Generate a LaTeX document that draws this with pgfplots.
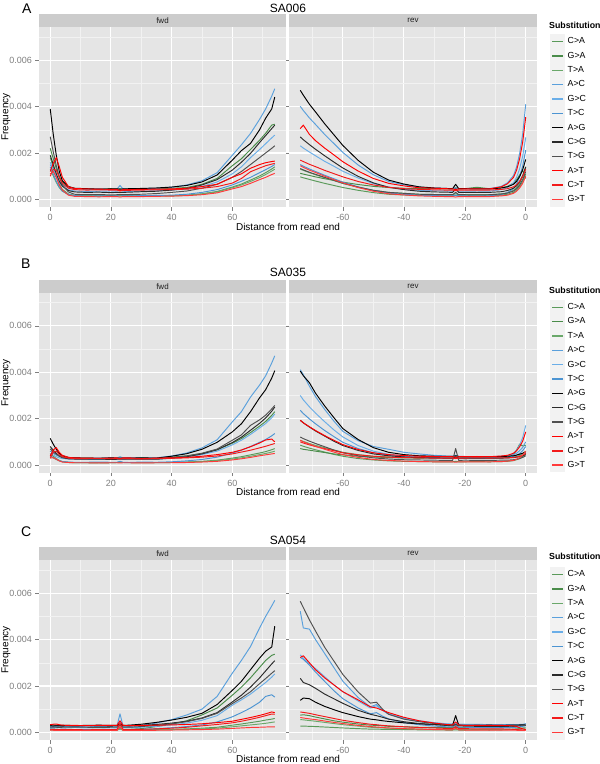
\documentclass[border=0pt]{standalone}
\usepackage{pgfplots}
\pgfplotsset{compat=1.18}
\usepackage{pgfplotstable}
\usepackage{fontspec}
\setmainfont{Liberation Sans}

\definecolor{bg}{HTML}{E5E5E5}
\definecolor{minorg}{HTML}{F2F2F2}
\definecolor{stripg}{HTML}{CCCCCC}
\definecolor{tickg}{HTML}{7F7F7F}
\definecolor{legbg}{HTML}{F2F2F2}
\definecolor{gCA}{HTML}{5A9A5A}
\definecolor{gGA}{HTML}{4A8C4A}
\definecolor{gTA}{HTML}{6AA86A}
\definecolor{bAC}{HTML}{5AA0DC}
\definecolor{bGC}{HTML}{6AAEE8}
\definecolor{bTC}{HTML}{4C94D2}
\definecolor{kAG}{HTML}{000000}
\definecolor{kCG}{HTML}{2A2A2A}
\definecolor{kTG}{HTML}{505050}
\definecolor{rAT}{HTML}{FF0000}
\definecolor{rCT}{HTML}{F21A1A}
\definecolor{rGT}{HTML}{FF3A3A}

% values in units of 1e-3
\pgfplotstableread{
x CA GA TA AC GC TC AG CG TG AT CT GT
0 1.80 2.20 1.30 1.50 1.60 1.40 3.90 1.90 2.70 1.20 1.00 1.10
1 1.39 1.76 1.01 1.24 1.29 1.09 2.80 1.50 2.05 1.55 1.30 1.20
2 0.98 1.33 0.73 0.98 0.98 0.78 1.90 1.10 1.45 1.80 1.25 0.95
3 0.65 0.98 0.50 0.77 0.73 0.53 1.20 0.78 0.95 1.40 0.95 0.62
4 0.43 0.75 0.35 0.63 0.56 0.36 0.80 0.57 0.62 0.95 0.70 0.40
6 0.23 0.54 0.21 0.50 0.41 0.21 0.55 0.38 0.32 0.55 0.48 0.18
8 0.17 0.47 0.16 0.46 0.36 0.16 0.48 0.32 0.22 0.47 0.42 0.13
12 0.15 0.45 0.15 0.44 0.34 0.14 0.46 0.30 0.20 0.45 0.40 0.12
16 0.14 0.44 0.16 0.45 0.35 0.15 0.44 0.31 0.21 0.44 0.41 0.11
20 0.16 0.46 0.14 0.43 0.36 0.15 0.45 0.29 0.19 0.43 0.40 0.12
22 0.15 0.45 0.15 0.44 0.35 0.15 0.45 0.30 0.20 0.43 0.40 0.12
23 0.15 0.45 0.15 0.60 0.40 0.22 0.44 0.30 0.20 0.38 0.36 0.10
24 0.15 0.45 0.15 0.44 0.35 0.15 0.45 0.30 0.20 0.42 0.39 0.12
26 0.14 0.43 0.16 0.44 0.34 0.15 0.46 0.31 0.21 0.42 0.39 0.12
30 0.15 0.45 0.15 0.46 0.35 0.16 0.47 0.33 0.22 0.43 0.40 0.12
35 0.16 0.47 0.14 0.48 0.37 0.17 0.49 0.35 0.25 0.44 0.41 0.13
40 0.15 0.48 0.16 0.52 0.40 0.18 0.53 0.40 0.30 0.45 0.42 0.14
45 0.18 0.51 0.17 0.62 0.45 0.22 0.60 0.47 0.36 0.48 0.44 0.16
50 0.24 0.65 0.23 0.80 0.55 0.30 0.75 0.62 0.48 0.55 0.48 0.20
55 0.34 0.90 0.32 1.15 0.75 0.42 1.05 0.85 0.65 0.65 0.55 0.28
60 0.53 1.45 0.50 1.90 1.10 0.62 1.69 1.26 0.95 0.95 0.70 0.45
63 0.66 1.75 0.62 2.35 1.40 0.78 2.10 1.60 1.20 1.10 0.90 0.55
66 0.83 2.15 0.77 2.84 1.80 0.95 2.41 1.98 1.50 1.34 1.19 0.69
69 1.01 2.55 0.94 3.45 2.15 1.15 3.00 2.45 1.80 1.50 1.35 0.85
71 1.15 2.85 1.07 3.90 2.40 1.28 3.50 2.75 2.00 1.58 1.45 0.95
73 1.31 3.20 1.22 4.45 2.65 1.42 3.90 3.05 2.20 1.63 1.52 1.07
74 1.40 3.24 1.30 4.77 2.77 1.50 4.41 3.20 2.31 1.65 1.55 1.12
}\Afwd

\pgfplotstableread{
x CA GA TA AC GC TC AG CG TG AT CT GT
-74 0.97 1.12 1.30 4.01 2.31 1.50 4.70 2.69 1.33 3.05 1.69 1.45
-73 0.93 1.09 1.25 3.83 2.21 1.43 4.49 2.57 1.27 3.20 1.63 1.38
-71 0.86 1.03 1.15 3.51 2.04 1.31 4.10 2.36 1.17 2.80 1.51 1.26
-69 0.79 0.97 1.06 3.23 1.88 1.20 3.77 2.16 1.08 2.53 1.41 1.16
-66 0.69 0.89 0.93 2.80 1.64 1.04 3.26 1.88 0.95 2.21 1.25 1.00
-63 0.60 0.82 0.81 2.41 1.43 0.89 2.79 1.61 0.82 1.92 1.11 0.85
-60 0.51 0.74 0.68 2.02 1.21 0.74 2.32 1.35 0.70 1.62 0.97 0.71
-55 0.39 0.64 0.52 1.48 0.92 0.54 1.68 0.99 0.53 1.22 0.77 0.51
-50 0.29 0.56 0.39 1.06 0.68 0.38 1.17 0.71 0.39 0.90 0.62 0.35
-45 0.22 0.51 0.30 0.77 0.53 0.27 0.83 0.52 0.30 0.69 0.52 0.24
-40 0.19 0.48 0.26 0.63 0.45 0.22 0.66 0.42 0.26 0.58 0.46 0.19
-35 0.17 0.47 0.22 0.52 0.39 0.18 0.54 0.35 0.22 0.50 0.43 0.15
-30 0.16 0.46 0.21 0.49 0.37 0.16 0.49 0.32 0.21 0.48 0.41 0.13
-26 0.15 0.45 0.20 0.47 0.36 0.15 0.47 0.31 0.20 0.46 0.40 0.12
-24 0.15 0.45 0.20 0.46 0.35 0.15 0.46 0.30 0.20 0.45 0.40 0.12
-23 0.17 0.50 0.24 0.50 0.38 0.18 0.65 0.45 0.30 0.42 0.37 0.10
-22 0.15 0.45 0.20 0.46 0.35 0.15 0.46 0.30 0.20 0.45 0.40 0.12
-20 0.15 0.46 0.20 0.46 0.35 0.15 0.46 0.30 0.20 0.45 0.40 0.12
-16 0.14 0.52 0.21 0.46 0.36 0.15 0.45 0.30 0.19 0.45 0.40 0.12
-12 0.15 0.46 0.20 0.46 0.35 0.15 0.45 0.30 0.20 0.45 0.40 0.12
-8 0.18 0.50 0.24 0.56 0.42 0.21 0.49 0.33 0.23 0.54 0.43 0.15
-6 0.22 0.56 0.28 0.71 0.51 0.29 0.54 0.38 0.27 0.67 0.46 0.18
-4 0.30 0.70 0.39 1.03 0.72 0.47 0.65 0.48 0.36 0.95 0.54 0.26
-3 0.40 0.85 0.51 1.40 0.95 0.66 0.78 0.59 0.46 1.26 0.63 0.35
-2 0.55 1.05 0.70 1.98 1.32 0.98 0.98 0.76 0.62 1.75 0.78 0.49
-1 0.77 1.25 0.98 2.82 1.86 1.43 1.28 1.02 0.85 2.47 0.99 0.69
0 1.10 0.90 1.40 4.10 2.67 2.12 1.72 1.40 1.20 3.55 1.30 1.00
}\Arev

\pgfplotstableread{
x CA GA TA AC GC TC AG CG TG AT CT GT
0 0.50 0.60 0.40 0.60 0.50 0.40 1.15 0.80 0.70 0.40 0.30 0.30
1 0.38 0.51 0.31 0.51 0.43 0.32 0.90 0.64 0.57 0.65 0.55 0.32
2 0.28 0.44 0.24 0.44 0.36 0.25 0.68 0.50 0.47 0.75 0.60 0.25
3 0.20 0.38 0.18 0.38 0.31 0.19 0.51 0.39 0.39 0.55 0.45 0.18
4 0.15 0.34 0.14 0.34 0.28 0.15 0.40 0.32 0.33 0.42 0.36 0.13
6 0.12 0.31 0.11 0.31 0.26 0.13 0.33 0.27 0.30 0.33 0.30 0.11
8 0.10 0.30 0.10 0.30 0.25 0.12 0.31 0.26 0.28 0.31 0.28 0.10
12 0.10 0.30 0.10 0.29 0.25 0.12 0.30 0.25 0.28 0.30 0.28 0.10
16 0.11 0.29 0.09 0.30 0.24 0.13 0.29 0.26 0.27 0.29 0.29 0.09
20 0.10 0.31 0.10 0.31 0.26 0.12 0.31 0.24 0.29 0.30 0.27 0.10
22 0.11 0.30 0.11 0.30 0.25 0.12 0.30 0.25 0.28 0.31 0.28 0.10
23 0.12 0.30 0.11 0.36 0.27 0.16 0.30 0.25 0.28 0.27 0.26 0.09
24 0.11 0.30 0.11 0.31 0.25 0.12 0.30 0.25 0.28 0.31 0.28 0.10
26 0.11 0.29 0.10 0.32 0.27 0.11 0.30 0.25 0.28 0.31 0.28 0.10
30 0.10 0.31 0.10 0.30 0.25 0.13 0.31 0.26 0.28 0.28 0.26 0.09
35 0.10 0.30 0.11 0.31 0.26 0.12 0.30 0.25 0.27 0.30 0.28 0.10
40 0.11 0.34 0.11 0.39 0.29 0.14 0.38 0.30 0.33 0.31 0.29 0.10
45 0.13 0.40 0.13 0.52 0.35 0.18 0.49 0.36 0.39 0.33 0.31 0.11
50 0.16 0.50 0.15 0.74 0.45 0.24 0.68 0.48 0.51 0.38 0.34 0.13
55 0.21 0.66 0.19 1.09 0.60 0.34 0.98 0.66 0.69 0.45 0.39 0.16
60 0.30 0.94 0.26 1.86 0.87 0.52 1.43 0.97 1.07 0.55 0.48 0.22
63 0.36 1.14 0.31 2.30 1.07 0.64 1.78 1.20 1.30 0.65 0.56 0.27
66 0.44 1.40 0.38 2.93 1.32 0.80 2.30 1.50 1.71 0.79 0.64 0.33
69 0.52 1.68 0.45 3.45 1.60 0.98 2.90 1.80 1.95 0.95 0.74 0.40
71 0.58 1.88 0.50 3.85 1.79 1.10 3.25 2.03 2.15 1.08 0.81 0.44
73 0.66 2.14 0.56 4.40 2.04 1.26 3.75 2.32 2.42 1.12 0.89 0.48
74 0.71 2.30 0.60 4.71 2.20 1.36 4.07 2.50 2.57 1.00 0.93 0.50
}\Bfwd

\pgfplotstableread{
x CA GA TA AC GC TC AG CG TG AT CT GT
-74 0.86 0.71 1.07 4.11 3.00 2.36 4.05 1.93 1.21 1.93 1.00 1.07
-73 0.81 0.68 1.02 3.90 2.81 2.22 3.85 1.82 1.14 1.82 0.95 1.00
-71 0.73 0.64 0.93 3.40 2.51 1.99 3.55 1.64 1.03 1.65 0.87 0.90
-69 0.66 0.60 0.85 2.95 2.24 1.78 3.10 1.47 0.93 1.49 0.80 0.81
-66 0.56 0.54 0.75 2.40 1.87 1.49 2.55 1.25 0.79 1.27 0.71 0.68
-63 0.46 0.48 0.65 1.90 1.52 1.23 2.05 1.03 0.65 1.07 0.62 0.56
-60 0.38 0.44 0.55 1.45 1.21 0.98 1.57 0.84 0.53 0.88 0.53 0.45
-55 0.28 0.38 0.45 1.05 0.84 0.71 1.10 0.63 0.40 0.67 0.44 0.33
-50 0.22 0.35 0.38 0.80 0.60 0.53 0.75 0.48 0.31 0.53 0.38 0.24
-45 0.18 0.32 0.35 0.68 0.46 0.42 0.55 0.40 0.26 0.45 0.34 0.20
-40 0.16 0.31 0.32 0.55 0.38 0.36 0.45 0.35 0.23 0.41 0.32 0.17
-35 0.15 0.30 0.31 0.48 0.34 0.33 0.40 0.32 0.22 0.38 0.31 0.15
-30 0.14 0.31 0.30 0.42 0.31 0.31 0.38 0.31 0.21 0.37 0.30 0.14
-26 0.14 0.30 0.31 0.39 0.30 0.30 0.37 0.30 0.20 0.36 0.30 0.14
-24 0.14 0.30 0.30 0.38 0.30 0.30 0.37 0.30 0.20 0.36 0.30 0.14
-23 0.16 0.34 0.33 0.42 0.32 0.33 0.40 0.35 0.71 0.33 0.28 0.12
-22 0.14 0.30 0.30 0.38 0.30 0.30 0.37 0.30 0.20 0.36 0.30 0.14
-20 0.14 0.31 0.30 0.37 0.30 0.30 0.36 0.30 0.21 0.36 0.30 0.14
-16 0.15 0.30 0.31 0.36 0.31 0.30 0.36 0.30 0.20 0.37 0.31 0.14
-12 0.14 0.31 0.30 0.36 0.30 0.30 0.36 0.30 0.20 0.36 0.30 0.14
-8 0.15 0.32 0.31 0.38 0.34 0.32 0.37 0.30 0.21 0.39 0.31 0.15
-6 0.16 0.34 0.32 0.40 0.38 0.33 0.38 0.31 0.21 0.42 0.31 0.17
-4 0.19 0.45 0.34 0.45 0.50 0.37 0.40 0.32 0.23 0.51 0.33 0.20
-3 0.23 0.65 0.37 0.51 0.64 0.42 0.43 0.34 0.25 0.62 0.35 0.25
-2 0.28 0.90 0.42 0.62 0.86 0.50 0.47 0.36 0.28 0.79 0.38 0.32
-1 0.37 0.82 0.49 0.76 1.19 0.62 0.51 0.40 0.33 1.03 0.43 0.43
0 0.50 0.86 0.60 1.00 1.71 0.80 0.57 0.45 0.40 1.43 0.50 0.60
}\Brev

\pgfplotstableread{
x CA GA TA AC GC TC AG CG TG AT CT GT
0 0.10 0.15 0.12 0.25 0.20 0.15 0.30 0.28 0.22 0.33 0.12 0.10
1 0.11 0.14 0.11 0.26 0.21 0.14 0.31 0.27 0.23 0.35 0.13 0.09
2 0.10 0.13 0.10 0.25 0.20 0.13 0.30 0.28 0.22 0.36 0.12 0.08
3 0.10 0.12 0.11 0.24 0.20 0.12 0.29 0.28 0.21 0.33 0.12 0.08
4 0.11 0.12 0.10 0.25 0.19 0.13 0.30 0.27 0.22 0.31 0.13 0.09
6 0.10 0.13 0.10 0.26 0.20 0.12 0.30 0.28 0.22 0.30 0.12 0.08
8 0.10 0.12 0.11 0.25 0.21 0.12 0.29 0.28 0.23 0.30 0.12 0.08
12 0.11 0.12 0.10 0.24 0.20 0.13 0.30 0.29 0.22 0.29 0.11 0.08
16 0.10 0.13 0.10 0.25 0.20 0.12 0.31 0.28 0.21 0.30 0.12 0.09
20 0.10 0.12 0.11 0.26 0.19 0.12 0.30 0.27 0.22 0.30 0.12 0.08
22 0.10 0.12 0.10 0.27 0.20 0.13 0.30 0.28 0.22 0.30 0.12 0.08
23 0.15 0.20 0.14 0.80 0.45 0.35 0.35 0.32 0.30 0.50 0.40 0.25
24 0.10 0.12 0.10 0.27 0.21 0.13 0.30 0.28 0.22 0.30 0.12 0.08
26 0.10 0.13 0.10 0.26 0.20 0.12 0.31 0.28 0.22 0.29 0.12 0.08
30 0.11 0.16 0.10 0.30 0.22 0.13 0.35 0.30 0.25 0.30 0.13 0.08
35 0.12 0.25 0.11 0.40 0.26 0.16 0.43 0.34 0.30 0.31 0.15 0.09
40 0.13 0.35 0.12 0.55 0.32 0.20 0.53 0.40 0.37 0.32 0.18 0.10
45 0.15 0.50 0.13 0.75 0.40 0.25 0.65 0.48 0.46 0.34 0.22 0.11
50 0.18 0.75 0.15 1.00 0.52 0.32 0.82 0.62 0.60 0.37 0.28 0.12
55 0.22 1.05 0.18 1.55 0.72 0.45 1.20 0.85 0.82 0.42 0.34 0.14
60 0.31 1.60 0.24 2.55 1.17 0.67 1.81 1.31 1.24 0.48 0.41 0.17
63 0.36 1.95 0.28 3.10 1.40 0.85 2.20 1.60 1.48 0.56 0.48 0.19
66 0.42 2.35 0.32 3.70 1.65 1.05 2.70 1.95 1.75 0.64 0.56 0.21
69 0.48 2.80 0.36 4.50 1.95 1.30 3.20 2.35 2.10 0.73 0.65 0.22
71 0.53 3.10 0.39 5.00 2.15 1.55 3.50 2.65 2.32 0.80 0.72 0.23
73 0.57 3.32 0.43 5.45 2.38 1.62 3.68 2.95 2.55 0.88 0.79 0.24
74 0.60 3.37 0.45 5.69 2.52 1.52 4.58 3.09 2.66 0.85 0.78 0.24
}\Cfwd

\pgfplotstableread{
x CA GA TA AC GC TC AG CG TG AT CT GT
-74 0.27 0.74 0.55 5.22 3.34 3.23 1.38 2.33 5.65 3.23 0.88 0.64
-73 0.27 0.76 0.54 4.50 3.20 3.15 1.48 2.15 5.38 3.30 0.86 0.62
-71 0.26 0.72 0.51 4.45 2.95 2.90 1.45 2.05 4.85 3.00 0.82 0.58
-69 0.25 0.66 0.48 4.00 2.75 2.60 1.30 1.90 4.37 2.70 0.76 0.55
-66 0.23 0.58 0.43 3.40 2.40 2.20 1.12 1.65 3.67 2.35 0.68 0.49
-63 0.21 0.50 0.38 2.80 2.05 1.80 0.98 1.45 3.08 2.05 0.60 0.43
-60 0.19 0.44 0.33 2.20 1.75 1.45 0.85 1.25 2.49 1.75 0.52 0.38
-55 0.16 0.36 0.27 1.50 1.35 1.05 0.68 0.95 1.74 1.40 0.42 0.30
-51 0.14 0.31 0.22 1.10 1.05 0.80 0.57 0.78 1.26 1.10 0.35 0.25
-49 0.14 0.30 0.21 1.20 1.15 0.85 0.54 0.72 1.30 1.05 0.33 0.23
-47 0.13 0.28 0.19 0.95 0.95 0.70 0.50 0.65 1.00 0.95 0.30 0.21
-45 0.13 0.26 0.18 0.78 0.80 0.58 0.47 0.57 0.78 0.85 0.28 0.19
-40 0.12 0.24 0.16 0.58 0.62 0.42 0.41 0.46 0.57 0.65 0.24 0.16
-35 0.11 0.22 0.14 0.47 0.50 0.33 0.37 0.38 0.46 0.50 0.21 0.14
-30 0.11 0.21 0.13 0.40 0.42 0.27 0.34 0.33 0.38 0.40 0.19 0.12
-26 0.10 0.20 0.12 0.36 0.37 0.24 0.32 0.30 0.33 0.34 0.17 0.11
-24 0.10 0.20 0.12 0.35 0.35 0.23 0.31 0.28 0.31 0.32 0.16 0.11
-23 0.11 0.22 0.14 0.40 0.38 0.30 0.72 0.35 0.32 0.45 0.25 0.18
-22 0.10 0.20 0.12 0.35 0.35 0.22 0.31 0.28 0.31 0.32 0.16 0.11
-20 0.10 0.20 0.12 0.34 0.34 0.22 0.30 0.27 0.30 0.30 0.16 0.10
-16 0.11 0.21 0.12 0.35 0.33 0.21 0.30 0.26 0.31 0.30 0.15 0.10
-12 0.10 0.20 0.13 0.33 0.33 0.21 0.31 0.26 0.30 0.30 0.15 0.10
-8 0.11 0.21 0.12 0.34 0.32 0.20 0.30 0.25 0.30 0.30 0.15 0.10
-6 0.12 0.22 0.13 0.33 0.32 0.20 0.31 0.26 0.29 0.29 0.14 0.10
-4 0.14 0.25 0.13 0.34 0.31 0.21 0.31 0.27 0.30 0.28 0.13 0.09
-3 0.15 0.28 0.14 0.33 0.31 0.22 0.31 0.28 0.30 0.25 0.12 0.09
-2 0.17 0.32 0.14 0.34 0.30 0.24 0.32 0.29 0.31 0.20 0.11 0.08
-1 0.19 0.30 0.15 0.34 0.31 0.26 0.32 0.30 0.30 0.15 0.10 0.08
0 0.20 0.30 0.15 0.38 0.30 0.28 0.32 0.30 0.30 0.12 0.10 0.08
}\Crev

\pgfplotsset{
  facet/.style={
    scale only axis, height=180pt,
    ymin=-0.33, ymax=7.43,
    axis background/.style={fill=bg},
    axis line style={draw=none},
    grid=both,
    major grid style={white, line width=1.1pt},
    minor grid style={minorg, line width=0.5pt},
    ytick={0,2,4,6}, minor ytick={1,3,5,7},
    tick align=outside, major tick length=3.5pt, minor tick length=0pt,
    tick style={tickg, line width=0.5pt},
    ticklabel style={font=\fontsize{9}{10}\selectfont, text=tickg},
    every axis title/.style={at={(0.5,1)}, anchor=south,
      fill=stripg, minimum height=12.7pt, inner sep=0pt,
      font=\fontsize{8}{9}\selectfont, text=black!88},
    every axis plot/.append style={line width=0.95pt, mark=none, line join=round},
  },
  fwd/.style={facet, width=247pt, xmin=-3.7, xmax=77.7,
    xtick={0,20,40,60}, xticklabels={0,20,40,60}, minor xtick={10,30,50,70},
    yticklabels={0.000,0.002,0.004,0.006},
    title={fwd}, title style={minimum width=247pt}},
  rev/.style={facet, width=248pt, xmin=-77.7, xmax=3.7,
    xtick={-60,-40,-20,0}, xticklabels={-60,-40,-20,0}, minor xtick={-70,-50,-30,-10},
    yticklabels={}, ytick style={draw=none},
    title={rev}, title style={minimum width=248pt},
    legend entries={C>A,G>A,T>A,A>C,G>C,T>C,A>G,C>G,T>G,A>T,C>T,G>T},
    legend style={at={(1,1)}, anchor=north west, xshift=13pt, yshift=-7.2pt,
      draw=none, fill=none, inner sep=0pt, row sep=0pt, column sep=2.5pt,
      font=\fontsize{8.8}{10}\selectfont, nodes={inner sep=0pt}, cells={anchor=west}},
    legend image code/.code={%
      \fill[legbg] (0pt,-6.7pt) rectangle (14pt,6.7pt);
      \draw[##1, line width=1.5pt] (1.5pt,0pt) -- (12.5pt,0pt);},
  },
}

\newcommand{\subst}[1]{%
  \addplot[gCA] table[x=x,y=CA]{#1};
  \addplot[gGA] table[x=x,y=GA]{#1};
  \addplot[gTA] table[x=x,y=TA]{#1};
  \addplot[bAC] table[x=x,y=AC]{#1};
  \addplot[bGC] table[x=x,y=GC]{#1};
  \addplot[bTC] table[x=x,y=TC]{#1};
  \addplot[kAG] table[x=x,y=AG]{#1};
  \addplot[kCG] table[x=x,y=CG]{#1};
  \addplot[kTG] table[x=x,y=TG]{#1};
  \addplot[rAT] table[x=x,y=AT]{#1};
  \addplot[rCT] table[x=x,y=CT]{#1};
  \addplot[rGT] table[x=x,y=GT]{#1};
}

\begin{document}
\begin{tikzpicture}
\useasboundingbox (0pt,0pt) rectangle (600pt,-764pt);

% ---------- Panel A ----------
\begin{axis}[fwd, at={(39pt,-27pt)}, anchor=north west]
\subst{\Afwd}
\end{axis}
\begin{axis}[rev, at={(289pt,-27pt)}, anchor=north west]
\subst{\Arev}
\end{axis}

% ---------- Panel B ----------
\begin{axis}[fwd, at={(39pt,-292.7pt)}, anchor=north west]
\subst{\Bfwd}
\end{axis}
\begin{axis}[rev, at={(289pt,-292.7pt)}, anchor=north west]
\subst{\Brev}
\end{axis}

% ---------- Panel C ----------
\begin{axis}[fwd, at={(39pt,-560pt)}, anchor=north west]
\subst{\Cfwd}
\end{axis}
\begin{axis}[rev, at={(289pt,-560pt)}, anchor=north west]
\subst{\Crev}
\end{axis}

% panel letters
\node[font=\fontsize{14}{16}\selectfont, anchor=west, inner sep=0pt] at (22pt,-9pt) {A};
\node[font=\fontsize{14}{16}\selectfont, anchor=west, inner sep=0pt] at (21pt,-264pt) {B};
\node[font=\fontsize{14}{16}\selectfont, anchor=west, inner sep=0pt] at (21pt,-531.7pt) {C};
% titles
\node[font=\fontsize{12}{14}\selectfont, inner sep=0pt] at (288pt,-8.5pt) {SA006};
\node[font=\fontsize{12}{14}\selectfont, inner sep=0pt] at (288pt,-272.5pt) {SA035};
\node[font=\fontsize{12}{14}\selectfont, inner sep=0pt] at (288pt,-540pt) {SA054};
% y labels
\node[font=\fontsize{10}{12}\selectfont, rotate=90, inner sep=0pt] at (6pt,-117pt) {Frequency};
\node[font=\fontsize{10}{12}\selectfont, rotate=90, inner sep=0pt] at (6pt,-382.7pt) {Frequency};
\node[font=\fontsize{10}{12}\selectfont, rotate=90, inner sep=0pt] at (6pt,-650pt) {Frequency};
% x labels
\node[font=\fontsize{10}{12}\selectfont, inner sep=0pt] at (288pt,-226.5pt) {Distance from read end};
\node[font=\fontsize{10}{12}\selectfont, inner sep=0pt] at (288pt,-492.2pt) {Distance from read end};
\node[font=\fontsize{10}{12}\selectfont, inner sep=0pt] at (288pt,-759pt) {Distance from read end};
% legend titles
\node[font=\bfseries\fontsize{8.8}{10}\selectfont, anchor=west, inner sep=0pt] at (549pt,-25pt) {Substitution};
\node[font=\bfseries\fontsize{8.8}{10}\selectfont, anchor=west, inner sep=0pt] at (549pt,-290pt) {Substitution};
\node[font=\bfseries\fontsize{8.8}{10}\selectfont, anchor=west, inner sep=0pt] at (549pt,-556.7pt) {Substitution};
\end{tikzpicture}
\end{document}
